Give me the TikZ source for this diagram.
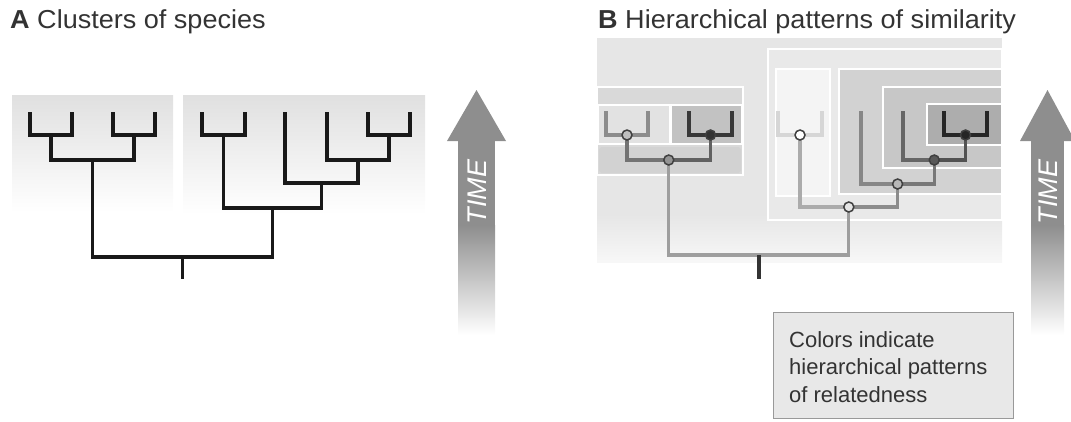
\documentclass[tikz,border=0pt]{standalone}
\usepackage{fontspec}
\setmainfont{Liberation Sans}
\newfontfamily\hfont{Liberation Sans}[FakeStretch=1.04]
\definecolor{txt}{HTML}{333333}
\definecolor{boxA}{HTML}{E0E0E0}
\definecolor{bgB}{HTML}{E6E6E6}
\definecolor{arr}{HTML}{8E8E8E}
\begin{document}
\begin{tikzpicture}[x=1pt,y=-1pt,
  title/.style={anchor=base west, inner sep=0, text=txt, font=\hfont\fontsize{26}{30}\selectfont},
  br/.style={line width=3.8pt, color=black!90, line join=miter},
  bl/.style={line width=3.2pt, line join=miter},
  wbox/.style={draw=white, line width=1.8pt},
  dot/.style={circle, inner sep=0pt, minimum size=10pt, draw=black!75, line width=1.5pt},
  timetxt/.style={rotate=90, text=white, inner sep=0, font=\fontsize{27}{27}\selectfont\itshape},
  note/.style={anchor=north west, inner sep=0, align=left, text=txt, font=\fontsize{22}{27.5}\selectfont}
]
\useasboundingbox (0,0) rectangle (1071,421);

% ---------------- Panel A ----------------
\node[title] (tA) at (10,28) {\textbf{A} Clusters of species};

\shade[top color=boxA, middle color=boxA, bottom color=white] (12,95) rectangle (173,212);
\shade[top color=boxA, middle color=boxA, bottom color=white] (183,95) rectangle (425,214);

\foreach \n/\x in {a1/30,a2/72,a3/113,a4/155,a5/202,a6/245,a7/285,a8/327,a9/368,a10/410}
  \coordinate (\n) at (\x,112);
\coordinate (j12) at (51,135);
\coordinate (j34) at (134,135);
\coordinate (jL) at (92.5,160);
\coordinate (j56) at (223.5,135);
\coordinate (j910) at (389,135);
\coordinate (j8) at (358,160);
\coordinate (j7) at (321.5,183);
\coordinate (j5) at (272.5,208);
\coordinate (jR) at (182.5,257);
\coordinate (rootA) at (182.5,279);

\draw[br] (a1) |- (j12) -| (a2);
\draw[br] (a3) |- (j34) -| (a4);
\draw[br] (j12) |- (jL) -| (j34);
\draw[br] (a5) |- (j56) -| (a6);
\draw[br] (a9) |- (j910) -| (a10);
\draw[br] (a8) |- (j8) -| (j910);
\draw[br] (a7) |- (j7) -| (j8);
\draw[br] (j56) |- (j5) -| (j7);
\draw[br] (jL) |- (jR) -| (j5);
\draw[br] (jR) -- (rootA);

% arrow A
\fill[arr] (458,138) rectangle (495,226);
\shade[top color=arr, bottom color=white] (458,225) rectangle (495,335);
\fill[arr] (447,141) -- (476.5,90) -- (506,141) -- cycle;
\node[timetxt] (timeA) at (477,192) {TIME};

% ---------------- Panel B ----------------
\node[title] (tB) at (598,28) {\textbf{B} Hierarchical patterns of similarity};

\shade[top color=bgB, bottom color=white!97!black] (597,214) rectangle (1002,262);
\fill[bgB] (597,38) rectangle (1002,215);

% right nested boxes
\filldraw[wbox, fill=black!8.5] (768,49) rectangle (1002,220);
\filldraw[wbox, fill=black!4.5] (776,69) rectangle (830,196);
\filldraw[wbox, fill=black!17.5] (839,69) rectangle (1002,194);
\filldraw[wbox, fill=black!22] (883,87) rectangle (1002,168);
\filldraw[wbox, fill=black!32] (927,104) rectangle (1002,145);

% left nested boxes
\filldraw[wbox, fill=black!15] (597,87) rectangle (743,175);
\filldraw[wbox, fill=black!11.5] (598.5,105) rectangle (669.5,144);
\filldraw[wbox, fill=black!24] (671,105) rectangle (741.5,144);
\fill[black!17.5, rounded corners=3pt] (599,147) rectangle (741,173);

% tree B
\foreach \n/\x in {b1/606,b2/648,b3/689,b4/732,b5/778,b6/822,b7/861,b8/903,b9/944,b10/987}
  \coordinate (\n) at (\x,111);
\coordinate (n12) at (627,135);
\coordinate (n34) at (710.5,135);
\coordinate (nL) at (668.75,160);
\coordinate (n56) at (800,135);
\coordinate (n910) at (965.5,135);
\coordinate (n8) at (934.25,160);
\coordinate (n7) at (897.6,184);
\coordinate (n5) at (848.8,207);
\coordinate (nR) at (758.8,255);
\coordinate (rootB) at (758.8,279);

\draw[bl, color=black!45] (b1) |- (n12);
\draw[bl, color=black!45] (b2) |- (n12);
\draw[bl, color=black!78] (b3) |- (n34);
\draw[bl, color=black!78] (b4) |- (n34);
\draw[bl, color=black!55] (n12) |- (nL);
\draw[bl, color=black!62] (n34) |- (nL);
\draw[bl, color=black!38] (nL) |- (nR);
\draw[bl, color=black!38] (n5) |- (nR);
\draw[bl, color=black!16] (b5) |- (n56);
\draw[bl, color=black!16] (b6) |- (n56);
\draw[bl, color=black!33] (n56) |- (n5);
\draw[bl, color=black!45] (n7) |- (n5);
\draw[bl, color=black!47] (b7) |- (n7);
\draw[bl, color=black!53] (n8) |- (n7);
\draw[bl, color=black!60] (b8) |- (n8);
\draw[bl, color=black!68] (n910) |- (n8);
\draw[bl, color=black!85] (b9) |- (n910);
\draw[bl, color=black!85] (b10) |- (n910);
\draw[line width=3.6pt, color=black!80] (nR) -- (rootB);

\node[dot, fill=black!25] (d12) at (n12) {};
\node[dot, fill=black!80] (d34) at (n34) {};
\node[dot, fill=black!42] (dL) at (nL) {};
\node[dot, fill=black!10] (d5) at (n5) {};
\node[dot, fill=white] (d56) at (n56) {};
\node[dot, fill=black!28] (d7) at (n7) {};
\node[dot, fill=black!65] (d8) at (n8) {};
\node[dot, fill=black!85] (d910) at (n910) {};

% arrow B
\fill[arr] (1031,138) rectangle (1064,226);
\shade[top color=arr, bottom color=white] (1031,225) rectangle (1064,335);
\fill[arr] (1020,141) -- (1047.5,90) -- (1075,141) -- cycle;
\node[timetxt] (timeB) at (1048,192) {TIME};

% note box
\filldraw[fill=black!9, draw=black!40, line width=1pt] (773,312) rectangle (1013,418);
\node[note] (noteT) at (789,331) {Colors indicate\\hierarchical patterns\\of relatedness};
\end{tikzpicture}
\end{document}
